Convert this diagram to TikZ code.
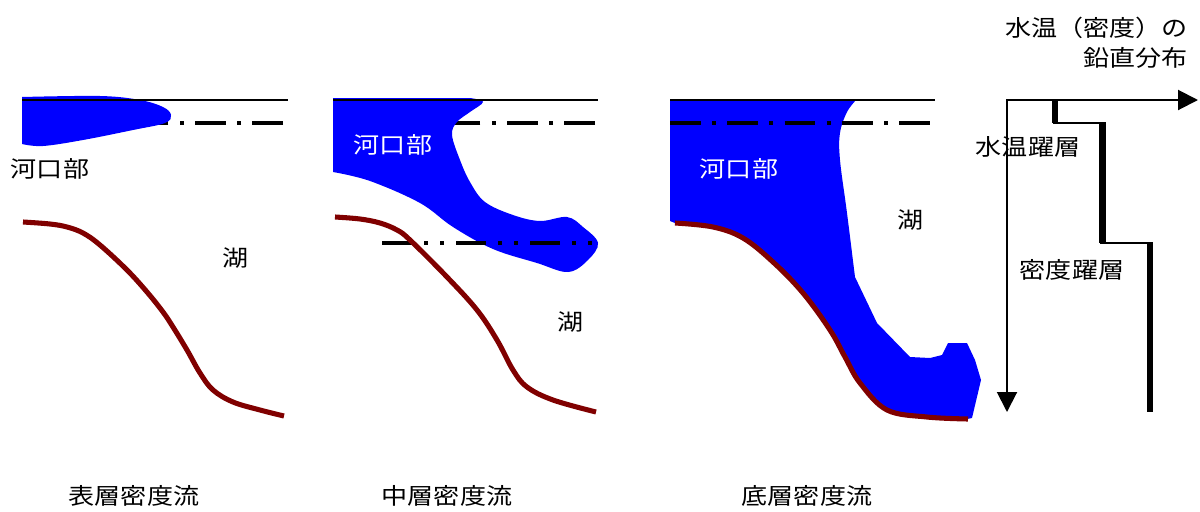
\documentclass[tikz,border=0pt]{standalone}
\usepackage{fontspec}
\newfontfamily\jp{Noto Sans CJK JP}[FakeStretch=1.15]
\usetikzlibrary{arrows.meta}
\definecolor{bedbrown}{RGB}{128,0,0}
\definecolor{flowblue}{RGB}{0,0,255}
\begin{document}
\begin{tikzpicture}[x=0.75pt,y=-0.75pt,
  lbl/.style={font=\jp\fontsize{17}{20}\selectfont,inner sep=0pt,anchor=center},
  wlbl/.style={lbl,text=white},
  surface/.style={line width=1.5pt,black},
  thermo/.style={line width=2.6pt,black,dash pattern=on 23pt off 8.5pt on 3pt off 8.5pt},
  thermotwo/.style={line width=2.6pt,black,dash pattern=on 22.5pt off 9pt on 3pt off 9pt on 3pt off 9pt},
  bed/.style={line width=3.8pt,bedbrown},
  flow/.style={fill=flowblue},
  axis/.style={line width=1.5pt,black},
  prof/.style={line width=4.6pt,black},
  profthin/.style={line width=1.6pt,black}]
\useasboundingbox (0,0) rectangle (1200,511);

% ---------- surface density current ----------
\draw[thermo] (283,123) -- (140,123);
\fill[flow] (22,97) -- plot[smooth,tension=0.6] coordinates {(22,97) (100,96) (140,100) (163,107) (171,115) (165,123) (133,130) (83,140) (43,146) (22,144)} -- cycle;
\draw[surface] (22,100) -- (288,100);
\draw[bed] plot[smooth,tension=0.6] coordinates {(23,222) (50,224) (67,227) (83,233) (100,245) (127,270) (147,292) (163,312) (173,327) (187,350) (200,373) (213,390) (233,402) (260,410) (284,416)};
\node[lbl] (estuaryA) at (50,169) {河口部};
\node[lbl] (lakeA) at (236,258) {湖};
\node[lbl] (titleA) at (134,496) {表層密度流};

% ---------- intermediate density current ----------
\draw[thermo] (595,123) -- (440,123);
\fill[flow] (333,98) -- plot[smooth,tension=0.6] coordinates {(470,98) (483,102) (470,112) (457,122) (452,135) (460,160) (470,182) (485,202) (513,215) (540,221) (567,217) (583,227) (598,243) (588,260) (568,272) (537,263) (493,249) (453,227) (420,203) (370,181) (333,172)} -- cycle;
\draw[surface] (333,100) -- (598,100);
\draw[thermotwo] (382,243) -- (593,243);
\draw[bed] plot[smooth,tension=0.6] coordinates {(335,217) (360,219) (380,223) (397,230) (410,240) (447,277) (477,310) (497,340) (513,370) (527,387) (553,400) (596,412)};
\node[wlbl] (estuaryB) at (393,145) {河口部};
\node[lbl] (lakeB) at (571,322) {湖};
\node[lbl] (titleB) at (447,496) {中層密度流};

% ---------- bottom density current ----------
\fill[flow] (670,99) -- (857,99)
  -- plot[smooth,tension=0.6] coordinates {(857,99) (847,112) (840,133) (840,160) (847,213) (855,277)}
  -- (877,323) -- (910,357) -- (930,358) -- (942,355) -- (948,343) -- (967,343) -- (975,360) -- (981,380) -- (972,418)
  -- plot[smooth,tension=0.6] coordinates {(967,419) (927,417) (887,410) (860,383) (845,357) (830,330) (803,293) (773,262) (743,238) (713,227) (675,223)}
  -- (670,221) -- cycle;
\draw[surface] (670,100) -- (935,100);
\draw[thermo] (670,123) -- (932,123);
\draw[bed] plot[smooth,tension=0.6] coordinates {(675,223) (713,227) (743,238) (773,262) (803,293) (830,330) (845,357) (860,383) (887,410) (927,417) (968,419)};
\node[wlbl] (estuaryC) at (739,169) {河口部};
\node[lbl] (lakeC) at (911,220) {湖};
\node[lbl] (titleC) at (807,496) {底層密度流};

% ---------- vertical temperature (density) profile ----------
\coordinate (ax0) at (1007,100);
\coordinate (axT) at (1198,100);
\coordinate (axZ) at (1007,412);
\draw[axis,{Triangle[length=15pt,width=15pt]}-{Triangle[length=15pt,width=15pt]}] (axT) -- (ax0) -- (axZ);
\draw[prof] (1055,99) -- (1055,123);
\draw[profthin] (1053,123) -- (1105,123);
\draw[prof] (1102.5,122) -- (1102.5,243);
\draw[profthin] (1100,243) -- (1152,243);
\draw[prof] (1150,242) -- (1150,412);
\node[lbl,anchor=east] (profA) at (1188,28) {水温（密度）の};
\node[lbl,anchor=east] (profB) at (1188,58) {鉛直分布};
\node[lbl] (thermocline) at (1028,147) {水温躍層};
\node[lbl] (pycnocline) at (1072,270) {密度躍層};
\end{tikzpicture}
\end{document}
